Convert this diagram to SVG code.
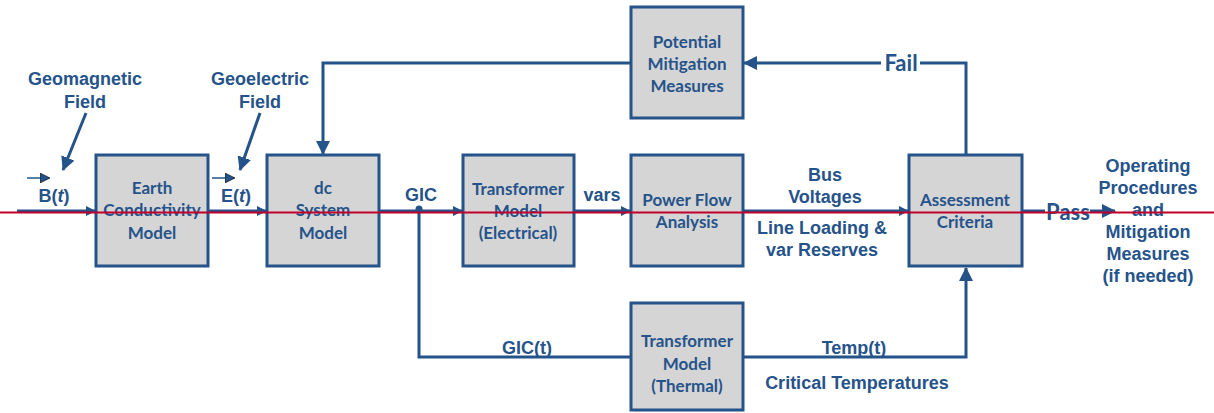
<svg xmlns="http://www.w3.org/2000/svg" width="1214" height="413" viewBox="0 0 1214 413">
<style>
.box{fill:#d5d5d5;stroke:#25538a;stroke-width:3}
.bt{font-family:Lato,"Open Sans",sans-serif;font-weight:bold;font-size:17px;fill:#25538a;text-anchor:middle}
.lb{font-family:"Liberation Sans",Arial,sans-serif;font-weight:bold;font-size:18px;fill:#25538a;text-anchor:middle}
.big{font-family:Lato,"Open Sans",sans-serif;font-weight:bold;font-size:22px;fill:#25538a;text-anchor:middle}
.ln{fill:none;stroke:#24538a;stroke-width:3}
.thin{fill:none;stroke:#24538a;stroke-width:1.5}
</style>
<defs>
<marker id="ah" markerWidth="10" markerHeight="10" refX="9" refY="5" orient="auto" markerUnits="userSpaceOnUse" viewBox="0 0 10 10">
<path d="M0,0 L10,5 L0,10 z" fill="#24538a"/>
</marker>
<marker id="ahb" markerWidth="14" markerHeight="14" refX="13" refY="7" orient="auto" markerUnits="userSpaceOnUse" viewBox="0 0 14 14">
<path d="M0,0 L14,7 L0,14 z" fill="#24538a"/>
</marker>
<marker id="ahs" markerWidth="10" markerHeight="10" refX="9" refY="5" orient="auto" markerUnits="userSpaceOnUse" viewBox="0 0 10 10">
<path d="M0,0 L10,5 L0,10 z" fill="#24538a" stroke="#000" stroke-width="0.6"/>
</marker>
</defs>
<g id="connectors">
<path class="ln" d="M17,211 H95" marker-end="url(#ah)"/>
<path class="ln" d="M208,211 H266" marker-end="url(#ah)"/>
<path class="ln" d="M379,211 H462" marker-end="url(#ah)"/>
<path class="ln" d="M574,211 H630" marker-end="url(#ah)"/>
<path class="ln" d="M743,211 H908" marker-end="url(#ah)"/>
<path class="ln" d="M1022,211 H1045"/>
<path class="ln" d="M1090,211 H1115" marker-end="url(#ahb)"/>
<circle cx="419" cy="209" r="3.5" fill="#24538a"/>
<path class="ln" d="M419,211 V357 H631"/>
<path class="ln" d="M743,357 H966 V268" marker-end="url(#ahb)"/>
<path class="ln" d="M966,155 V63 H920"/>
<path class="ln" d="M881,63 H744" marker-end="url(#ahb)"/>
<path class="ln" d="M631,63 H323 V154" marker-end="url(#ahb)"/>
<path class="ln" d="M86,113 L63,170" marker-end="url(#ahb)"/>
<path class="ln" d="M260,113 L240,170" marker-end="url(#ahb)"/>
<path class="thin" d="M27,178 H49" marker-end="url(#ahs)"/>
<path class="thin" d="M212,178 H234" marker-end="url(#ahs)"/>
</g>
<g id="earth">
<rect class="box" x="96" y="155" width="112" height="111"/>
<text class="bt" x="152" y="194">Earth</text>
<text class="bt" x="152" y="216">Conductivity</text>
<text class="bt" x="152" y="239">Model</text>
</g>
<g id="dc">
<rect class="box" x="267" y="155" width="112" height="111"/>
<text class="bt" x="323" y="194">dc</text>
<text class="bt" x="323" y="216">System</text>
<text class="bt" x="323" y="239">Model</text>
</g>
<g id="txe">
<rect class="box" x="463" y="155" width="111" height="111"/>
<text class="bt" x="518" y="195">Transformer</text>
<text class="bt" x="518" y="217">Model</text>
<text class="bt" x="518" y="239">(Electrical)</text>
</g>
<g id="pf">
<rect class="box" x="631" y="155" width="112" height="111"/>
<text class="bt" x="687" y="206">Power Flow</text>
<text class="bt" x="687" y="228">Analysis</text>
</g>
<g id="assess">
<rect class="box" x="909" y="155" width="113" height="111"/>
<text class="bt" x="965" y="206">Assessment</text>
<text class="bt" x="965" y="228">Criteria</text>
</g>
<g id="pmm">
<rect class="box" x="631" y="7" width="112" height="111"/>
<text class="bt" x="687" y="48">Potential</text>
<text class="bt" x="687" y="70">Mitigation</text>
<text class="bt" x="687" y="92">Measures</text>
</g>
<g id="txt">
<rect class="box" x="631" y="303" width="112" height="107"/>
<text class="bt" x="687" y="347">Transformer</text>
<text class="bt" x="687" y="370">Model</text>
<text class="bt" x="687" y="392">(Thermal)</text>
</g>
<g id="labels">
<text class="lb" x="85" y="85">Geomagnetic</text>
<text class="lb" x="85" y="108">Field</text>
<text class="lb" x="260" y="85">Geoelectric</text>
<text class="lb" x="260" y="108">Field</text>
<text class="lb" x="54" y="202">B(<tspan font-style="italic">t</tspan>)</text>
<text class="lb" x="236" y="202">E(<tspan font-style="italic">t</tspan>)</text>
<text class="lb" x="421" y="201">GIC</text>
<text class="lb" x="602" y="201">vars</text>
<text class="lb" x="825" y="181">Bus</text>
<text class="lb" x="825" y="203">Voltages</text>
<text class="lb" x="822" y="234">Line Loading &amp;</text>
<text class="lb" x="822" y="256">var Reserves</text>
<text class="big" x="1068" y="220">Pass</text>
<text class="big" x="901" y="71">Fail</text>
<text class="lb" x="1148" y="172">Operating</text>
<text class="lb" x="1148" y="194">Procedures</text>
<text class="lb" x="1148" y="216">and</text>
<text class="lb" x="1148" y="238">Mitigation</text>
<text class="lb" x="1148" y="260">Measures</text>
<text class="lb" x="1148" y="282">(if needed)</text>
<text class="lb" x="527" y="354">GIC(t)</text>
<text class="lb" x="854" y="354">Temp(t)</text>
<text class="lb" x="857" y="389">Critical Temperatures</text>
</g>
<line x1="0" y1="212.5" x2="1214" y2="212.5" stroke="#c0002a" stroke-width="2"/>
</svg>
